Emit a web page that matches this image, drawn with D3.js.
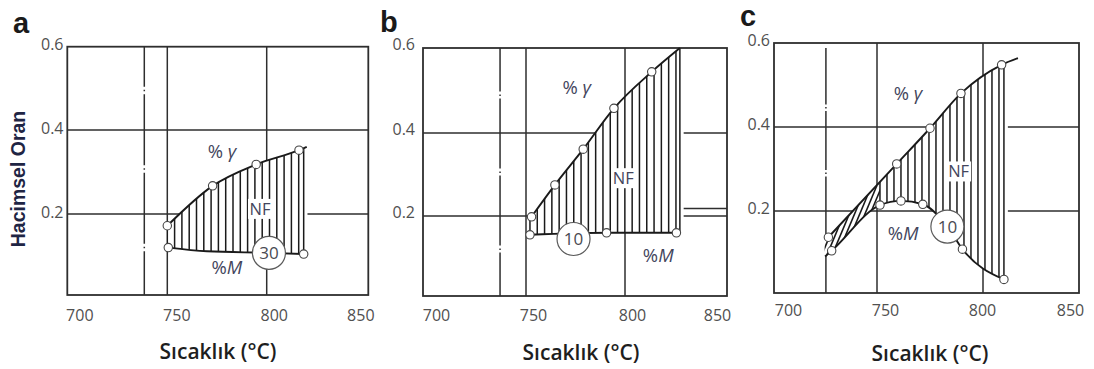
<!DOCTYPE html>
<html>
<head>
<meta charset="utf-8">
<script src="https://cdn.jsdelivr.net/npm/d3@7"></script>
<style>
  html, body { margin: 0; padding: 0; background: #fff; }
  svg { display: block; }
</style>
</head>
<body>
<svg id="fig" width="1094" height="369"></svg>
<script>
// ---- data -------------------------------------------------------------
// Temperature ticks (°C) and volume-fraction ticks
const tempTicks = [700, 750, 800, 850];
const fracTicks = [0.2, 0.4, 0.6];
const gridTemps = [750, 800];
const gridFracs = [0.2, 0.4];
const panelLetters = ["a", "b", "c"];

// Austenite (% γ) curves: [temperature °C, volume fraction, measured point 1/0]
const gammaA = [[750.0, 0.171, 1], [772.8, 0.267, 1], [794.7, 0.318, 1], [815.9, 0.352, 1], [819.7, 0.360, 0]];
const gammaB = [[752.8, 0.198, 1], [764.6, 0.275, 1], [778.9, 0.361, 1], [794.4, 0.458, 1], [813.1, 0.544, 1], [826.9, 0.600, 0]];
const gammaC = [[726.4, 0.136, 1], [759.3, 0.312, 1], [775.0, 0.397, 1], [789.6, 0.480, 1], [809.7, 0.548, 1], [818.2, 0.564, 0]];

// Martensite (% M) curves
const martA = [[750.5, 0.117, 1], [770.0, 0.108, 0], [801.1, 0.104, 0], [818.2, 0.101, 1]];
const martB = [[752.0, 0.153, 1], [790.7, 0.158, 1], [825.2, 0.158, 1], [826.9, 0.158, 0]];
const martC = [[724.8, 0.089, 0], [728.0, 0.103, 1], [751.4, 0.214, 1], [761.3, 0.224, 1], [771.6, 0.216, 1],
               [783.2, 0.162, 0], [790.3, 0.107, 1], [810.9, 0.033, 1]];

// Circled tags sitting on the martensite curves
const tagText = ["30", "10", "10"];
const tagTemp = [801.1, 774.0, 783.2];
const tagFrac = [0.104, 0.1425, 0.162];

// Ac1 temperature (dash-dot line) per panel
const ac1Temp = [738.5, 737.4, 725.2];
const ac1Top = [0.6, 0.6, 0.588];

// NF region limits (°C) with vertical hatching
const nfRange = [[750.0, 818.2], [752.0, 826.9], [751.4, 810.9]];
// Panel c: narrow band with diagonal hatching
const bandC = [726.4, 751.4];
// Panel b: short level line right of the NF region
const ledgeB = [[826.9, 0.218], [850, 0.218]];

// ---- layout -----------------------------------------------------------
const layout = [
  { xr: [67.3, 167.3, 266.7, 368.3], yr: [295, 214, 130, 46.7],
    letter: [13, 33], tickDx: [12, 9, 7, -8], tickBase: 321,
    yLabRight: 63.5, yLabDy: 3, titleX: 218, titleBase: 359,
    dash: "71,3,1.5,3", dashOff: 31, step: 7.3,
    gammaLab: [777.5, 0.348], nfLab: [796.6, 0.212], mLab: [780, 0.069] },
  { xr: [423, 526, 625, 727], yr: [296, 216, 133, 48],
    letter: [380, 32], tickDx: [13, 7, 7, -10], tickBase: 321,
    yLabRight: 415, yLabDy: 1, titleX: 581, titleBase: 360,
    dash: "70,3,1.5,2.5", dashOff: 26.5, step: 7.3,
    gammaLab: [775.6, 0.508], nfLab: [799.1, 0.291], mLab: [816.3, 0.1025] },
  { xr: [774, 877, 983, 1079], yr: [293, 211, 127, 43],
    letter: [740, 26], tickDx: [14, 8, -1, -9], tickBase: 316,
    yLabRight: 770, yLabDy: 2, titleX: 930, titleBase: 361,
    dash: "59,2.5,1.5,2.5", dashOff: 2.5, step: 7.0,
    gammaLab: [764.6, 0.48], nfLab: [788.5, 0.294], mLab: [762.3, 0.146] }
];

const INK = "#1a1a1a", GRID = "#2e2e2e", TICK = "#505050", NOTE = "#43455c";
const gammas = [gammaA, gammaB, gammaC];
const marts = [martA, martB, martC];

const svg = d3.select("#fig");
const defs = svg.append("defs");

layout.forEach((L, i) => {
  const x = d3.scaleLinear().domain(tempTicks).range(L.xr);
  const y = d3.scaleLinear().domain([0, 0.2, 0.4, 0.6]).range(L.yr);
  const g = svg.append("g");
  const x0 = x(700), x1 = x(850), yT = y(0.6), yB = y(0);

  // grid
  g.selectAll(".vg").data(gridTemps).join("line")
    .attr("x1", d => x(d)).attr("x2", d => x(d)).attr("y1", yT).attr("y2", yB)
    .attr("stroke", GRID).attr("stroke-width", 1.5);
  g.selectAll(".hg").data(gridFracs).join("line")
    .attr("x1", x0).attr("x2", x1).attr("y1", d => y(d)).attr("y2", d => y(d))
    .attr("stroke", GRID).attr("stroke-width", 1.5);

  // Ac1 dash-dot line
  g.append("line")
    .attr("x1", x(ac1Temp[i])).attr("x2", x(ac1Temp[i]))
    .attr("y1", y(ac1Top[i])).attr("y2", yB)
    .attr("stroke", GRID).attr("stroke-width", 1.5)
    .attr("stroke-dasharray", L.dash).attr("stroke-dashoffset", L.dashOff);

  if (i === 1) {
    g.append("line")
      .attr("x1", x(ledgeB[0][0])).attr("x2", x(ledgeB[1][0]))
      .attr("y1", y(ledgeB[0][1])).attr("y2", y(ledgeB[1][1]))
      .attr("stroke", GRID).attr("stroke-width", 1.5);
  }

  // curves
  const line = d3.line().x(d => x(d[0])).y(d => y(d[1])).curve(d3.curveMonotoneX);
  const gam = gammas[i], mar = marts[i];
  const gPath = line(gam), mPath = line(mar);

  // clip regions: below the γ curve, above the M curve
  const gf = gam[0], gl = gam[gam.length - 1];
  const underG = `M${x(gf[0]) - 4},${y(gf[1])}` + gPath.replace(/^M/, "L") +
    `L${x(gl[0]) + 4},${y(gl[1])}L${x(gl[0]) + 4},${yB + 5}L${x(gf[0]) - 4},${yB + 5}Z`;
  const mf = mar[0], ml = mar[mar.length - 1];
  const aboveM = `M${x(mf[0]) - 4},${y(mf[1])}` + mPath.replace(/^M/, "L") +
    `L${x(ml[0]) + 4},${y(ml[1])}L${x(ml[0]) + 4},${yT - 5}L${x(mf[0]) - 4},${yT - 5}Z`;
  defs.append("clipPath").attr("id", `ug${i}`).append("path").attr("d", underG);
  defs.append("clipPath").attr("id", `am${i}`).append("path").attr("d", aboveM);

  const h1 = g.append("g").attr("clip-path", `url(#ug${i})`);
  const h2 = h1.append("g").attr("clip-path", `url(#am${i})`);
  const nf = nfRange[i];
  const fillStart = i === 2 ? bandC[0] : nf[0];
  h2.append("rect")
    .attr("x", x(fillStart) - 4).attr("y", yT - 5)
    .attr("width", x(nf[1]) - x(fillStart) + 8).attr("height", yB - yT + 10)
    .attr("fill", "#fff");

  // vertical hatching of the NF region
  const hx = d3.range(x(nf[0]), x(nf[1]) - 2.5, L.step).concat([x(nf[1])]);
  h2.selectAll(".hv").data(hx).join("line")
    .attr("x1", d => d).attr("x2", d => d).attr("y1", yT - 5).attr("y2", yB + 5)
    .attr("stroke", INK).attr("stroke-width", 1.5);

  // diagonal hatching of the narrow band (panel c)
  if (i === 2) {
    defs.append("clipPath").attr("id", "bandc").append("rect")
      .attr("x", x(bandC[0]) - 4).attr("y", yT)
      .attr("width", x(bandC[1]) - x(bandC[0]) + 4).attr("height", yB - yT);
    const h3 = h2.append("g").attr("clip-path", "url(#bandc)");
    const yb = y(0.05), yt = y(0.26), k = 0.42;
    const dx = d3.range(x(bandC[0]) - 40, x(bandC[1]) + 5, 5.2);
    h3.selectAll(".hd").data(dx).join("line")
      .attr("x1", d => d).attr("y1", yb)
      .attr("x2", d => d + (yb - yt) * k).attr("y2", yt)
      .attr("stroke", INK).attr("stroke-width", 1.6);
  }

  // frame
  g.append("rect").attr("x", x0).attr("y", yT).attr("width", x1 - x0).attr("height", yB - yT)
    .attr("fill", "none").attr("stroke", GRID).attr("stroke-width", 1.8);

  g.append("path").attr("d", gPath).attr("fill", "none").attr("stroke", INK).attr("stroke-width", 1.9);
  g.append("path").attr("d", mPath).attr("fill", "none").attr("stroke", INK).attr("stroke-width", 1.9);

  // measured points
  const pts = gam.concat(mar).filter(d => d[2] === 1);
  g.selectAll(".pt").data(pts).join("circle")
    .attr("cx", d => x(d[0])).attr("cy", d => y(d[1])).attr("r", 4.2)
    .attr("fill", "#fff").attr("stroke", "#454545").attr("stroke-width", 1.1);

  // circled tag
  g.append("circle").attr("cx", x(tagTemp[i])).attr("cy", y(tagFrac[i])).attr("r", 16.5)
    .attr("fill", "#fff").attr("stroke", "#5a5a5a").attr("stroke-width", 1.2);
  g.append("text").attr("x", x(tagTemp[i])).attr("y", y(tagFrac[i])).attr("dy", "0.36em")
    .attr("text-anchor", "middle").attr("font-family", "Open Sans, sans-serif")
    .attr("font-size", 17).attr("fill", "#4a4a52").text(tagText[i]);

  // curve labels
  const tg = g.append("text").attr("x", x(L.gammaLab[0])).attr("y", y(L.gammaLab[1])).attr("dy", "0.35em")
    .attr("text-anchor", "middle").attr("font-family", "Open Sans, sans-serif")
    .attr("font-size", 18.5).attr("fill", NOTE);
  tg.append("tspan").text("% ");
  tg.append("tspan").attr("font-style", "italic").text("γ");

  // NF label on a white patch that interrupts the hatching
  const nfBg = g.append("rect").attr("fill", "#fff");
  const nfText = g.append("text").attr("x", x(L.nfLab[0])).attr("y", y(L.nfLab[1])).attr("dy", "0.36em")
    .attr("text-anchor", "middle").attr("font-family", "Open Sans, sans-serif")
    .attr("font-size", 16.5).attr("fill", NOTE).text("NF");
  const bb = nfText.node().getBBox();
  nfBg.attr("x", bb.x - 1.5).attr("y", bb.y + 2).attr("width", bb.width + 3).attr("height", bb.height - 3);

  const tm = g.append("text").attr("x", x(L.mLab[0])).attr("y", y(L.mLab[1])).attr("dy", "0.36em")
    .attr("text-anchor", "middle").attr("font-family", "Open Sans, sans-serif")
    .attr("font-size", 18.5).attr("fill", NOTE);
  tm.append("tspan").text("%");
  tm.append("tspan").attr("font-style", "italic").text("M");

  // axes
  const ax = g.append("g")
    .call(d3.axisBottom(x).tickValues(tempTicks).tickSize(0).tickFormat(d3.format("d")));
  ax.select(".domain").remove();
  ax.selectAll("line").remove();
  ax.attr("font-family", "Open Sans, sans-serif").attr("font-size", 16);
  ax.selectAll("text").attr("y", L.tickBase).attr("dy", null)
    .attr("dx", (d, j) => L.tickDx[j]).attr("fill", TICK);

  const ay = g.append("g").attr("transform", `translate(${L.yLabRight},0)`)
    .call(d3.axisLeft(y).tickValues(fracTicks).tickSize(0).tickPadding(0).tickFormat(d3.format(".1f")));
  ay.select(".domain").remove();
  ay.selectAll("line").remove();
  ay.attr("font-family", "Open Sans, sans-serif").attr("font-size", 16);
  ay.selectAll("text").attr("x", 0).attr("dy", null).attr("y", L.yLabDy).attr("fill", TICK);

  // axis title
  g.append("text").attr("x", L.titleX).attr("y", L.titleBase).attr("text-anchor", "middle")
    .attr("font-family", "Open Sans, sans-serif").attr("font-weight", 600).attr("font-size", 21)
    .attr("fill", "#1e1e1e").text("Sıcaklık (°C)");

  // panel letter
  g.append("text").attr("x", L.letter[0]).attr("y", L.letter[1])
    .attr("font-family", "Liberation Sans, Arial, sans-serif").attr("font-weight", "bold")
    .attr("font-size", 29).attr("fill", "#1a1a1a").text(panelLetters[i]);
});

// shared y-axis title
svg.append("text").attr("transform", "translate(25,179) rotate(-90)").attr("text-anchor", "middle")
  .attr("font-family", "Liberation Sans, Arial, sans-serif").attr("font-weight", "bold")
  .attr("font-size", 19.5).attr("fill", "#1f2544").text("Hacimsel Oran");
</script>
</body>
</html>
